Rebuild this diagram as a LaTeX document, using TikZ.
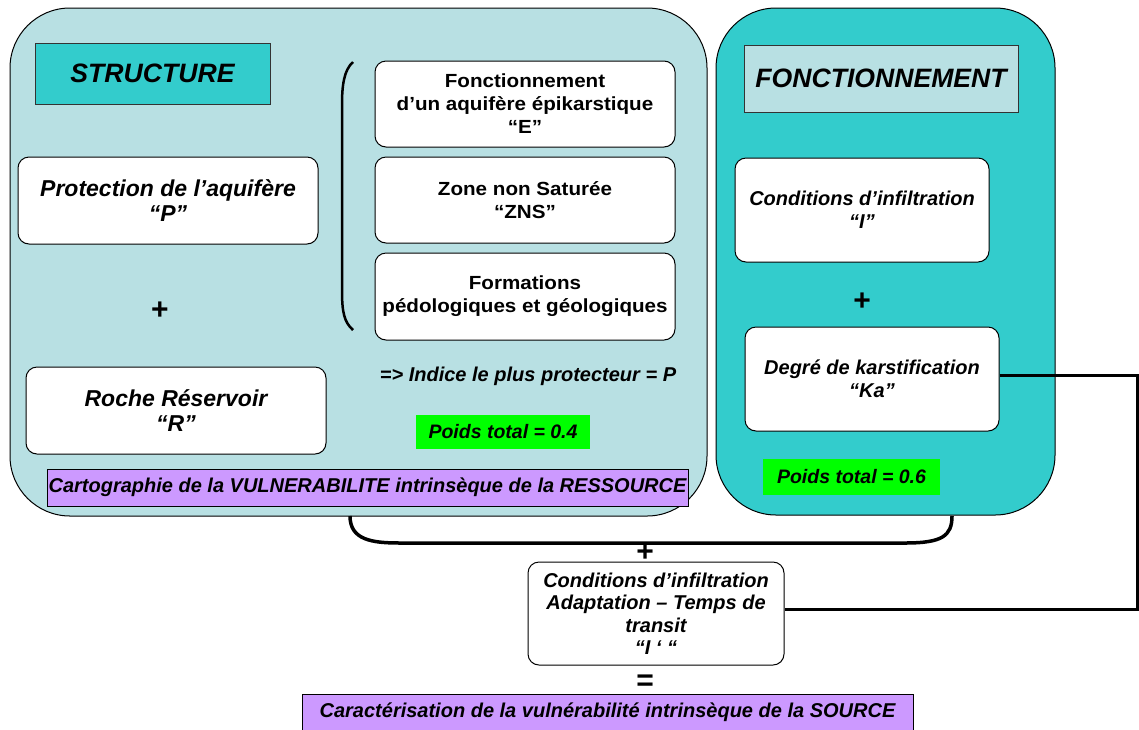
\documentclass[tikz,border=0pt]{standalone}
\usepackage{fontspec}
\setmainfont{Liberation Sans}
\newfontfamily\widefont[FakeStretch=1.085]{Liberation Sans}
\definecolor{paleblue}{HTML}{B8E0E3}
\definecolor{tealc}{HTML}{33CCCC}
\definecolor{greenc}{HTML}{00FF00}
\definecolor{purplec}{HTML}{CC99FF}
\tikzset{
  bigpanel/.style={draw=black, line width=1pt, rounded corners=60pt, inner sep=0pt},
  titlebox/.style={draw=black!80, line width=1pt, inner sep=0pt, align=center,
     font=\fontsize{26.6}{30}\selectfont\bfseries\itshape},
  wbox/.style={draw=black, fill=white, line width=1pt, rounded corners=11pt, inner sep=0pt, align=center},
  itbox/.style={wbox, font=\fontsize{23}{24.5}\selectfont\bfseries\itshape},
  upbox/.style={wbox, font=\widefont\fontsize{19}{23}\selectfont\bfseries},
  fbox/.style={wbox, font=\fontsize{20}{23}\selectfont\bfseries\itshape},
  poids/.style={fill=greenc, inner sep=0pt, font=\fontsize{19.5}{20}\selectfont\bfseries\itshape},
  purplebox/.style={draw=black, fill=purplec, line width=1pt, inner sep=0pt,
     font=\fontsize{20}{22}\selectfont\bfseries\itshape},
  opsign/.style={inner sep=0pt, font=\fontsize{30}{30}\selectfont\bfseries},
}
\begin{document}
\begin{tikzpicture}[x=1pt,y=-1pt]
\useasboundingbox (0,0) rectangle (1139,729);
% big panels
\node[bigpanel, fill=paleblue, minimum width=697pt, minimum height=508pt] (left) at (358.5,262) {};
\node[bigpanel, fill=tealc, minimum width=339pt, minimum height=507pt] (right) at (885.5,261.5) {};
% titles
\node[titlebox, fill=tealc, minimum width=235pt, minimum height=61pt] (struct) at (152.5,73.5) {STRUCTURE};
\node[titlebox, fill=paleblue, minimum width=274pt, minimum height=67pt] (fonct) at (881,78.5) {FONCTIONNEMENT};
% left column
\node[itbox, minimum width=300pt, minimum height=87pt] (prot) at (168,200.5) {Protection de l’aquifère\\“P”};
\node[opsign] (plus1) at (160,311) {+};
\node[itbox, minimum width=300pt, minimum height=87pt] (roche) at (176,410.5) {Roche Réservoir\\“R”};
% stacked boxes
\node[upbox, minimum width=300pt, minimum height=86pt] (e1) at (525,104) {Fonctionnement\\d’un aquifère épikarstique\\“E”};
\node[upbox, minimum width=300pt, minimum height=86pt] (e2) at (525,200) {Zone non Saturée\\“ZNS”};
\node[upbox, minimum width=300pt, minimum height=87pt] (e3) at (525,296.5) {Formations\\pédologiques et géologiques};
% bracket
\coordinate (bt) at (353,62);
\coordinate (bb) at (353,330);
\draw[line width=2.5pt] (bt) .. controls (344,70) and (342,85) .. (342,105) -- (342,290) .. controls (342,312) and (344,322) .. (bb);
\node[inner sep=0pt, font=\fontsize{20}{22}\selectfont\bfseries\itshape] (indice) at (528,376) {=> Indice le plus protecteur = P};
\node[poids, minimum width=174pt, minimum height=34pt] (p4) at (503,432) {Poids total = 0.4};
\node[purplebox, minimum width=641pt, minimum height=37pt] (cart) at (367.5,487.5) {Cartographie de la VULNERABILITE intrinsèque de la RESSOURCE};
% right column
\node[fbox, minimum width=254pt, minimum height=104pt] (condI) at (862,210) {Conditions d’infiltration\\“I”};
\node[opsign] (plus2) at (862,302) {+};
\node[fbox, minimum width=254pt, minimum height=104pt] (ka) at (872,379) {Degré de karstification\\“Ka”};
\node[poids, minimum width=177pt, minimum height=36pt] (p6) at (851.5,477) {Poids total = 0.6};
% bottom brace
\coordinate (b1) at (350,516);
\coordinate (b2) at (952,516);
\draw[line width=3.5pt] (b1) .. controls (350,540) and (372,543) .. (400,543) -- (905,543) .. controls (942,543) and (952,536) .. (b2);
\node[opsign] (plus3) at (645,553) {+};
% bottom box
\node[wbox, font=\fontsize{20}{22.5}\selectfont\bfseries\itshape, minimum width=256pt, minimum height=103pt] (condA) at (656,613.5) {Conditions d’infiltration\\Adaptation – Temps de\\transit\\“I ‘ “};
\coordinate (r1) at (1137,375);
\coordinate (r2) at (1137,609);
\draw[line width=3pt] (ka.east |- r1) -- (r1) -- (r2) -- (condA.east |- r2);
\node[opsign] (eq) at (645,683) {=};
\node[purplebox, minimum width=611pt, minimum height=36pt] (source) at (607.5,712.5) {Caractérisation de la vulnérabilité intrinsèque de la SOURCE};
\end{tikzpicture}
\end{document}
